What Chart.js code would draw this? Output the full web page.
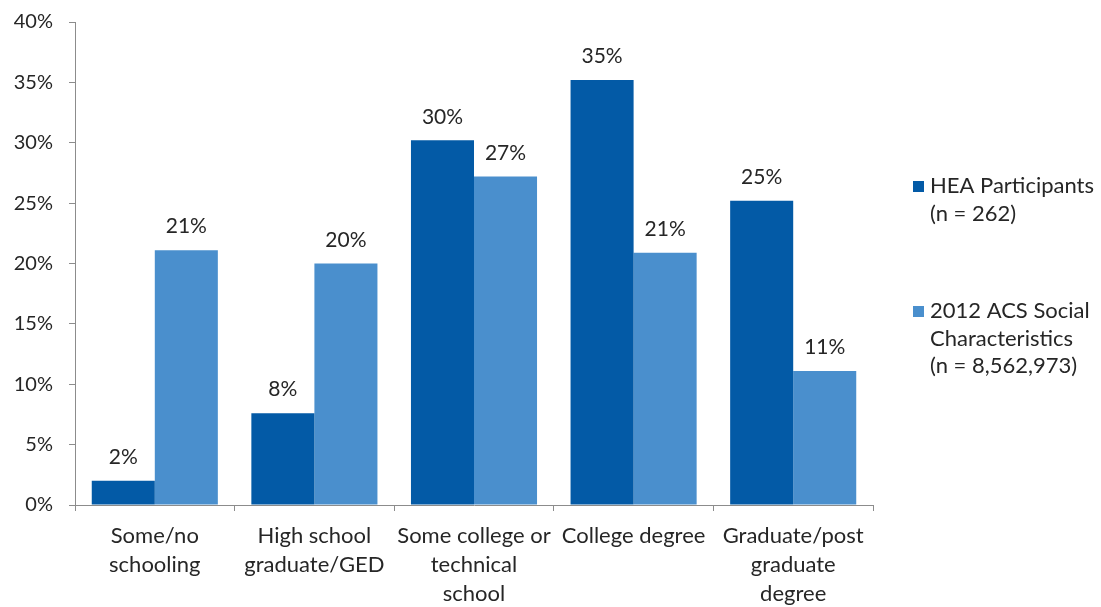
<!DOCTYPE html>
<html>
<head>
<meta charset="utf-8">
<title>Educational attainment</title>
<script src="https://cdn.jsdelivr.net/npm/chart.js@4"></script>
<style>
  html, body { margin: 0; padding: 0; background: #fff; }
  #wrap { width: 1101px; height: 607px; position: relative; }
</style>
</head>
<body>
<div id="wrap"><canvas id="eduChart"></canvas></div>
<script>
// education levels (x axis), split into display lines
const categories = [
  ['Some/no', 'schooling'],
  ['High school', 'graduate/GED'],
  ['Some college or', 'technical', 'school'],
  ['College degree'],
  ['Graduate/post', 'graduate', 'degree']
];
// percent of respondents
const heaValues = [2.0, 7.6, 30.2, 35.2, 25.2];
const acsValues = [21.1, 20.0, 27.2, 20.9, 11.1];
const seriesNames = [
  ['HEA Participants', '(n = 262)'],
  ['2012 ACS Social', 'Characteristics', '(n = 8,562,973)']
];
const seriesColors = ['#035AA6', '#4A8FCD'];
const yMax = 40;
const yStep = 5;

const FONT = 'Lato, "Liberation Sans", sans-serif';
const TEXT = '#262626';
const AXIS = '#8C8C8C';

// percent labels above each bar
const valueLabels = {
  id: 'valueLabels',
  afterDatasetsDraw(chart) {
    const ctx = chart.ctx;
    ctx.save();
    ctx.font = '21px ' + FONT;
    ctx.fillStyle = TEXT;
    ctx.textAlign = 'center';
    ctx.textBaseline = 'bottom';
    chart.data.datasets.forEach((ds, i) => {
      chart.getDatasetMeta(i).data.forEach((bar, j) => {
        ctx.fillText(Math.round(ds.data[j]) + '%', bar.x, bar.y - 13);
      });
    });
    ctx.restore();
  }
};

// legend on the right, multi-line entries
const sideLegend = {
  id: 'sideLegend',
  afterDraw(chart) {
    const ctx = chart.ctx;
    const x = chart.chartArea.right + 40;
    const tops = [186, 311];
    const lineH = 27.5;
    ctx.save();
    ctx.font = '22px ' + FONT;
    ctx.textBaseline = 'middle';
    ctx.textAlign = 'left';
    chart.data.datasets.forEach((ds, i) => {
      ctx.fillStyle = ds.backgroundColor;
      ctx.fillRect(x, tops[i] - 5, 11, 11);
      ctx.fillStyle = TEXT;
      seriesNames[i].forEach((line, k) => {
        ctx.fillText(line, x + 17, tops[i] + k * lineH);
      });
    });
    ctx.restore();
  }
};

new Chart(document.getElementById('eduChart'), {
  type: 'bar',
  data: {
    labels: categories,
    datasets: [
      { label: seriesNames[0].join(' '), data: heaValues, backgroundColor: seriesColors[0] },
      { label: seriesNames[1].join(' '), data: acsValues, backgroundColor: seriesColors[1] }
    ]
  },
  options: {
    responsive: true,
    maintainAspectRatio: false,
    animation: false,
    layout: { padding: { top: 22, right: 228, left: 0, bottom: 0 } },
    datasets: { bar: { barPercentage: 1.0, categoryPercentage: 0.79 } },
    plugins: { legend: { display: false }, tooltip: { enabled: false } },
    scales: {
      x: {
        grid: {
          offset: true,
          drawOnChartArea: false,
          drawTicks: true,
          tickLength: 6,
          color: AXIS
        },
        border: { color: AXIS, width: 1 },
        ticks: {
          autoSkip: false,
          maxRotation: 0,
          minRotation: 0,
          padding: 10,
          color: TEXT,
          font: { family: FONT, size: 22, lineHeight: 1.32 }
        },
        afterFit(scale) { scale.height = 102; }
      },
      y: {
        min: 0,
        max: yMax,
        grid: {
          drawOnChartArea: false,
          drawTicks: true,
          tickLength: 6,
          color: AXIS
        },
        border: { color: AXIS, width: 1 },
        ticks: {
          stepSize: yStep,
          padding: 16,
          color: TEXT,
          font: { family: FONT, size: 20 },
          callback: v => v + '%'
        },
        afterFit(scale) {
          scale.width = 75;
          scale.paddingTop = 0;
          scale.paddingBottom = 0;
        }
      }
    }
  },
  plugins: [valueLabels, sideLegend]
});
</script>
</body>
</html>
